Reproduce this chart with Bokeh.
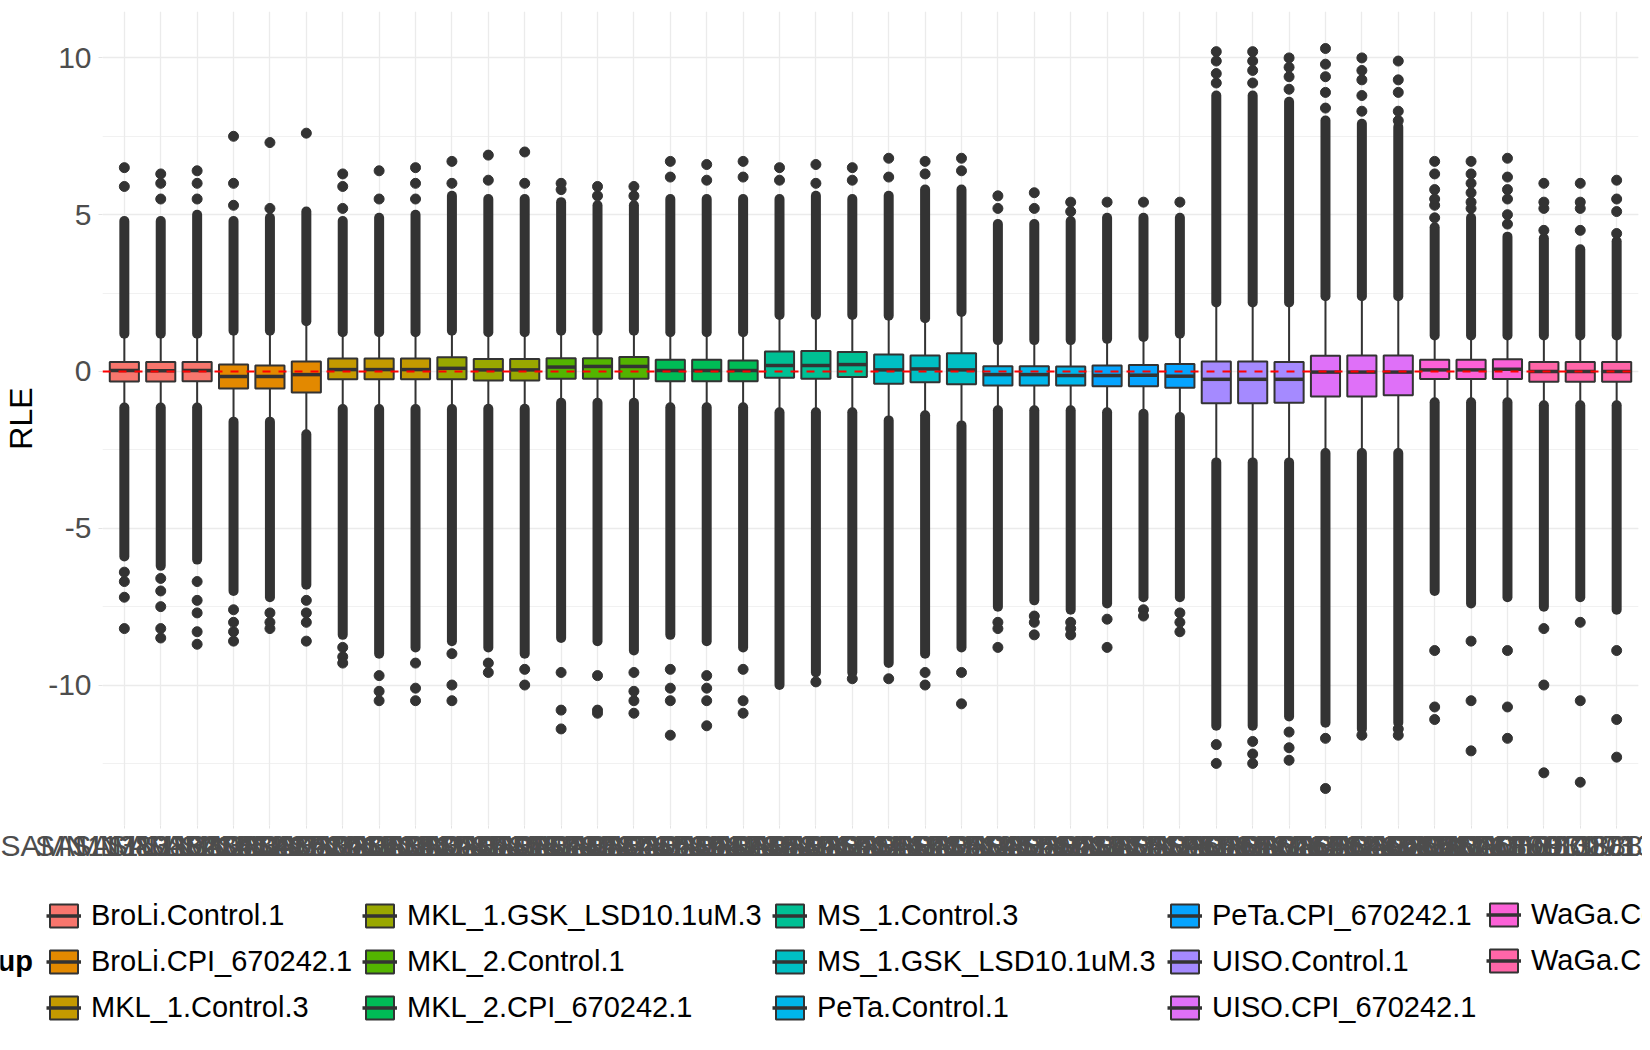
import numpy as np

from bokeh.plotting import figure
from bokeh.layouts import column
from bokeh.models import (ColumnDataSource, Range1d, FixedTicker, SingleIntervalTicker,
                          Legend, LegendItem, Label, Span)
from bokeh.resources import INLINE
from bokeh.embed import file_html

# --- data ----------------------------------------------------------------
groups = [
    "BroLi.Control.1", "BroLi.CPI_670242.1", "MKL_1.Control.3",
    "MKL_1.GSK_LSD10.1uM.3", "MKL_2.Control.1", "MKL_2.CPI_670242.1",
    "MS_1.Control.3", "MS_1.GSK_LSD10.1uM.3", "PeTa.Control.1",
    "PeTa.CPI_670242.1", "UISO.Control.1", "UISO.CPI_670242.1",
    "WaGa.Control.1", "WaGa.CPI_670242.1",
]
group_colors = [
    "#F8766D", "#E38900", "#C49A00", "#99A800", "#53B400", "#00BC56", "#00C094",
    "#00BFC4", "#00B6EB", "#06A4FF", "#A58AFF", "#DF70F8", "#FB61D7", "#FF66A8",
]

samples = [
    "SAMN1138013214", "SAMN1138013352", "SAMN1138013497", "SAMN1138013520",
    "SAMN1138013668", "SAMN1138013703", "SAMN1138013841", "SAMN1138013985",
    "SAMN1138014016", "SAMN1138014153", "SAMN1138014290", "SAMN1138014327",
    "SAMN1138014461", "SAMN1138014509", "SAMN1138014642", "SAMN1138014786",
    "SAMN1138014820", "SAMN1138014963", "SAMN1138015004", "SAMN1138015148",
    "SAMN1138015281", "SAMN1138015319", "SAMN1138015457", "SAMN1138015590",
    "SAMN1138015633", "SAMN1138015771", "SAMN1138015812", "SAMN1138015955",
    "SAMN1138016096", "SAMN1138016120", "SAMN1138016264", "SAMN1138016302",
    "SAMN1138016440", "SAMN1138016585", "SAMN1138016621", "SAMN1138016769",
    "SAMN1138016808", "SAMN1138016931", "SAMN1138017093", "SAMN1138017138",
    "SAMN1138017273", "SAMN1138013888",
]
sample_group = [g for g in range(len(groups)) for _ in range(3)]

q1 = [-0.32, -0.32, -0.31, -0.54, -0.54, -0.67, -0.25, -0.25, -0.25, -0.25,
      -0.29, -0.29, -0.23, -0.23, -0.23, -0.31, -0.31, -0.31, -0.20, -0.23,
      -0.18, -0.39, -0.34, -0.41, -0.45, -0.45, -0.45, -0.47, -0.47, -0.52,
      -1.01, -1.01, -1.00, -0.80, -0.80, -0.76, -0.24, -0.24, -0.24, -0.33,
      -0.33, -0.33]
med = [0.03, 0.02, 0.03, -0.16, -0.16, -0.10, 0.06, 0.06, 0.06, 0.10,
       0.05, 0.05, 0.14, 0.16, 0.16, 0.03, 0.03, 0.03, 0.19, 0.19,
       0.22, 0.05, 0.08, 0.05, -0.10, -0.10, -0.13, -0.13, -0.12, -0.15,
       -0.25, -0.25, -0.25, -0.02, -0.02, -0.02, 0.05, 0.05, 0.07, 0.00,
       0.00, 0.00]
q3 = [0.30, 0.30, 0.30, 0.22, 0.19, 0.32, 0.41, 0.41, 0.41, 0.45,
      0.40, 0.40, 0.42, 0.42, 0.46, 0.37, 0.37, 0.35, 0.64, 0.65,
      0.62, 0.54, 0.51, 0.58, 0.17, 0.17, 0.16, 0.19, 0.21, 0.24,
      0.32, 0.32, 0.30, 0.50, 0.51, 0.51, 0.37, 0.37, 0.39, 0.30,
      0.30, 0.30]
whisk_lo = [-1.15, -1.15, -1.15, -1.6, -1.6, -2.0, -1.2, -1.2, -1.2, -1.2,
            -1.19, -1.19, -1.0, -1.0, -1.0, -1.14, -1.14, -1.14, -1.3, -1.3,
            -1.3, -1.56, -1.4, -1.72, -1.24, -1.24, -1.24, -1.3, -1.35, -1.45,
            -2.9, -2.9, -2.9, -2.6, -2.6, -2.6, -0.98, -0.98, -0.98, -1.08,
            -1.08, -1.08]
whisk_hi = [1.2, 1.2, 1.2, 1.3, 1.3, 1.6, 1.25, 1.25, 1.25, 1.3,
            1.25, 1.25, 1.3, 1.3, 1.3, 1.25, 1.25, 1.25, 1.8, 1.8,
            1.8, 1.78, 1.7, 1.9, 1.0, 1.0, 1.0, 1.04, 1.1, 1.2,
            2.2, 2.2, 2.2, 2.4, 2.4, 2.4, 1.15, 1.15, 1.15, 1.15,
            1.15, 1.15]

# outliers: continuous dense runs past the whiskers, then single points
dense_hi = [4.8, 4.8, 5.0, 4.8, 4.9, 5.1, 4.8, 4.9, 5.0, 5.6,
            5.5, 5.5, 5.4, 5.3, 5.3, 5.5, 5.5, 5.5, 5.5, 5.6,
            5.5, 5.6, 5.8, 5.8, 4.7, 4.7, 4.8, 4.9, 4.9, 4.9,
            8.8, 8.8, 8.6, 8.0, 7.9, 7.8, 4.6, 4.9, 4.3, 4.25,
            3.9, 4.15]
dense_lo = [-5.9, -6.2, -6.0, -7.0, -7.2, -6.8, -8.4, -9.0, -8.8, -8.6,
            -8.8, -9.0, -8.5, -8.6, -8.9, -8.4, -8.6, -8.8, -10.0, -9.6,
            -9.6, -9.3, -9.0, -8.8, -7.5, -7.3, -7.6, -7.4, -7.2, -7.2,
            -11.3, -11.3, -11.0, -11.2, -11.4, -11.2, -7.0, -7.4, -7.2, -7.5,
            -7.2, -7.6]
sparse_hi = [
    [5.9, 6.5], [5.5, 6.0, 6.3], [5.5, 6.0, 6.4],
    [5.3, 6.0, 7.5], [5.2, 7.3], [7.6],
    [5.2, 5.9, 6.3], [5.5, 6.4], [5.5, 6.0, 6.5],
    [6.0, 6.7], [6.1, 6.9], [6.0, 7.0],
    [5.8, 6.0], [5.6, 5.9], [5.6, 5.9],
    [6.2, 6.7], [6.1, 6.6], [6.2, 6.7],
    [6.1, 6.5], [6.0, 6.6], [6.1, 6.5],
    [6.2, 6.8], [6.3, 6.7], [6.4, 6.8],
    [5.2, 5.6], [5.2, 5.7], [5.1, 5.4],
    [5.4], [5.4], [5.4],
    [9.2, 9.5, 9.9, 10.2], [9.2, 9.6, 9.9, 10.2], [9.0, 9.4, 9.7, 10.0],
    [8.4, 8.9, 9.4, 9.8, 10.3], [8.3, 8.8, 9.3, 9.6, 10.0], [8.0, 8.3, 8.9, 9.3, 9.9],
    [4.9, 5.3, 5.5, 5.8, 6.3, 6.7], [5.2, 5.4, 5.7, 6.0, 6.3, 6.7],
    [4.7, 5.0, 5.5, 5.8, 6.2, 6.8],
    [4.5, 5.2, 5.4, 6.0], [4.5, 5.2, 5.4, 6.0], [4.4, 5.1, 5.5, 6.1],
]
sparse_lo = [
    [-6.4, -6.7, -7.2, -8.2], [-6.6, -7.0, -7.5, -8.2, -8.5], [-6.7, -7.3, -7.7, -8.3, -8.7],
    [-7.6, -8.0, -8.3, -8.6], [-7.7, -8.0, -8.2], [-7.3, -7.7, -8.0, -8.6],
    [-8.8, -9.1, -9.3], [-9.7, -10.2, -10.5], [-9.3, -10.1, -10.5],
    [-9.0, -10.0, -10.5], [-9.3, -9.6], [-9.5, -10.0],
    [-9.6, -10.8, -11.4], [-9.7, -10.8, -10.9], [-9.6, -10.2, -10.5, -10.9],
    [-9.5, -10.1, -10.5, -11.6], [-9.7, -10.1, -10.5, -11.3], [-9.5, -10.5, -10.9],
    [], [-9.9], [-9.8],
    [-9.8], [-9.6, -10.0], [-9.6, -10.6],
    [-8.0, -8.2, -8.8], [-7.8, -8.0, -8.4], [-8.0, -8.2, -8.4],
    [-7.9, -8.8], [-7.6, -7.8], [-7.7, -8.0, -8.3],
    [-11.9, -12.5], [-11.8, -12.2, -12.5], [-11.5, -12.0, -12.4],
    [-11.7, -13.3], [-11.6], [-11.4, -11.6],
    [-8.9, -10.7, -11.1], [-8.6, -10.5, -12.1], [-8.9, -10.7, -11.7],
    [-8.2, -10.0, -12.8], [-8.0, -10.5, -13.1], [-8.9, -11.1, -12.3],
]
y_ticks = [-10, -5, 0, 5, 10]

DARK = "#333333"
FONT = "Liberation Sans"
WIDTH = 1642
MAIN_H = 865
LEGEND_H = 169


def no_frame_align(fig):
    # keep each figure's frame where its own borders put it
    if "frame_align" in fig.properties():
        fig.frame_align = False


def rle_plot():
    n = len(samples)
    xs = np.arange(1, n + 1)

    # ggplot style limits: 5% expansion on y, 0.6 units on the discrete x
    all_vals = [v for lst in sparse_hi + sparse_lo for v in lst] + dense_hi + dense_lo
    ymin, ymax = min(all_vals), max(all_vals)
    pad = 0.05 * (ymax - ymin)

    p = figure(width=WIDTH, height=MAIN_H,
               x_range=Range1d(0.4, n + 0.6),
               y_range=Range1d(ymin - pad, ymax + pad),
               output_backend="svg", toolbar_location=None,
               min_border_left=98, min_border_right=4,
               min_border_top=11, min_border_bottom=40)
    p.outline_line_color = None
    no_frame_align(p)

    # axes
    p.xaxis.ticker = FixedTicker(ticks=list(xs))
    p.xaxis.major_label_overrides = {int(x): s for x, s in zip(xs, samples)}
    p.yaxis.ticker = SingleIntervalTicker(interval=5, num_minor_ticks=2)
    p.yaxis.major_label_overrides = {t: str(t) for t in y_ticks}
    p.yaxis.axis_label = "RLE"
    p.yaxis.axis_label_text_font = FONT
    p.yaxis.axis_label_text_font_size = "32px"
    p.yaxis.axis_label_text_font_style = "normal"
    p.yaxis.axis_label_text_color = "black"
    p.yaxis.axis_label_standoff = 6
    for ax in (p.xaxis[0], p.yaxis[0]):
        ax.axis_line_color = None
        ax.major_tick_line_color = "#E3E3E3"
        ax.major_tick_in = 0
        ax.minor_tick_line_color = None
        ax.major_label_text_font = FONT
        ax.major_label_text_font_size = "30px"
        ax.major_label_text_color = "#4D4D4D"
    p.xaxis.major_tick_out = 3
    p.xaxis.major_label_standoff = 0
    p.yaxis.major_tick_out = 4
    p.yaxis.major_label_standoff = 7

    p.xgrid.grid_line_color = "#EBEBEB"
    p.xgrid.grid_line_width = 1.3
    p.ygrid.grid_line_color = "#EBEBEB"
    p.ygrid.grid_line_width = 1.3
    p.ygrid.minor_grid_line_color = "#EBEBEB"
    p.ygrid.minor_grid_line_width = 0.7

    src = ColumnDataSource(data={
        'x': xs,
        'left': xs - 0.4,
        'right': xs + 0.4,
        'q1': q1, 'med': med, 'q3': q3,
        'lo': whisk_lo, 'hi': whisk_hi,
        'dlo': dense_lo, 'dhi': dense_hi,
        'color': [group_colors[g] for g in sample_group],
    })

    # whiskers
    p.segment(x0='x', y0='q3', x1='x', y1='hi', source=src,
              line_color=DARK, line_width=2)
    p.segment(x0='x', y0='q1', x1='x', y1='lo', source=src,
              line_color=DARK, line_width=2)

    # outliers: dense runs drawn as thick round-capped strokes
    p.segment(x0='x', y0='hi', x1='x', y1='dhi', source=src,
              line_color=DARK, line_width=10, line_cap='round')
    p.segment(x0='x', y0='lo', x1='x', y1='dlo', source=src,
              line_color=DARK, line_width=10, line_cap='round')

    px, py = [], []
    for x, hi_pts, lo_pts in zip(xs, sparse_hi, sparse_lo):
        for v in hi_pts + lo_pts:
            px.append(x)
            py.append(v)
    p.scatter(x=px, y=py, size=10, color=DARK)

    # boxes and medians
    p.vbar(x='x', width=0.8, bottom='q1', top='q3', source=src,
           fill_color='color', line_color=DARK, line_width=2)
    p.segment(x0='left', y0='med', x1='right', y1='med', source=src,
              line_color=DARK, line_width=3.5)

    p.add_layout(Span(location=0, dimension='width', line_color='red',
                      line_width=2, line_dash="8 8"))
    return p


def legend_panel():
    # strip under the plot that only carries the "group" legend
    lp = figure(width=WIDTH, height=LEGEND_H, x_range=Range1d(0, 1),
                y_range=Range1d(0, 1), x_axis_type=None, y_axis_type=None,
                output_backend="svg", toolbar_location=None,
                min_border=0)
    lp.outline_line_color = None
    lp.grid.visible = False
    no_frame_align(lp)

    # key glyphs take their colours from these rows, nothing is drawn in the strip
    key_src = ColumnDataSource(data={
        'x': [np.nan] * len(groups),
        'y': [np.nan] * len(groups),
        'color': group_colors,
    })
    box_r = lp.vbar(x='x', width=0.1, bottom='y', top='y', source=key_src,
                    fill_color='color', line_color=DARK, line_width=2)
    med_r = lp.segment(x0='x', y0='y', x1='x', y1='y', source=key_src,
                       line_color=DARK, line_width=3.5)

    # five columns of up to three keys, ggplot fills them column by column
    col_x = [46, 362, 772, 1167, 1486]
    item_h, gap, top = 34, 13, 31
    for c, x0 in enumerate(col_x):
        idx = list(range(3 * c, min(3 * c + 3, len(groups))))
        items = [LegendItem(label=groups[g], renderers=[box_r, med_r], index=g)
                 for g in idx]
        height = len(idx) * item_h + (len(idx) - 1) * gap
        leg = Legend(items=items, location=(x0, LEGEND_H - top - height),
                     orientation="vertical", glyph_width=35, glyph_height=29,
                     label_standoff=10, spacing=gap, padding=0, margin=0,
                     label_text_font=FONT, label_text_font_size="29px",
                     label_text_color="black", border_line_color=None,
                     background_fill_alpha=0)
        lp.add_layout(leg)

    lp.add_layout(Label(x=32.5, y=LEGEND_H - top - item_h - gap - item_h / 2,
                        x_units='screen', y_units='screen',
                        text="group", text_align='right', text_baseline='middle',
                        text_font=FONT, text_font_size="29px",
                        text_font_style='bold', text_color="black"))
    return lp


if __name__ == '__main__':
    page = column(rle_plot(), legend_panel(), spacing=0)
    open("out.html", "w").write(file_html(page, INLINE, "RLE"))
